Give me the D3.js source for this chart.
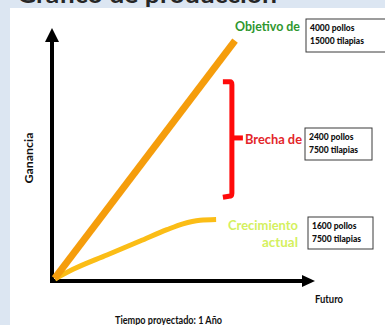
<!DOCTYPE html>
<html>
<head>
<meta charset="utf-8">
<script src="https://cdn.jsdelivr.net/npm/d3@7"></script>
<style>
  html, body { margin: 0; padding: 0; background: #dce6f2; }
  svg { display: block; }
</style>
</head>
<body>
<svg id="chart" width="385" height="325"></svg>
<script>
// Projected production: target line, current growth curve and the gap between them
const chartTitle = "Gráfico de producción";
const axisLabels = { y: "Ganancia", x: "Futuro", span: "Tiempo proyectado: 1 Año" };

const timeDomain = [0, 100];
const gainDomain = [0, 100];

// Target ("Objetivo de") straight line
const objetivoTime = [1, 69.6];
const objetivoGain = [1.0, 95];

// Current growth ("Crecimiento actual") curve
const crecimientoTime = [1.1, 8.0, 20.9, 33.5, 43.7, 49.8, 56.3, 62.4];
const crecimientoGain = [0.8, 4.6, 10.3, 15.8, 20.3, 22.6, 24.0, 24.3];

// Gap ("Brecha de") bracket: time position and gain span
const brechaTime = 68.4;
const brechaGain = [33.5, 78.8];

const seriesNames = ["Objetivo de", "Brecha de", ["Crecimiento", "actual"]];
const boxLines = [
  ["4000 pollos", "15000 tilapias"],
  ["2400 pollos", "7500 tilapias"],
  ["1600 pollos", "7500 tilapias"]
];

const svg = d3.select("#chart");
const font = "Lato, 'Open Sans', sans-serif";

// page panel
svg.append("rect").attr("x", 10).attr("y", 8).attr("width", 380).attr("height", 330).attr("fill", "#ffffff");

// title (partly above the frame)
svg.append("text")
  .attr("x", 17).attr("y", 3)
  .attr("textLength", 260).attr("lengthAdjust", "spacingAndGlyphs")
  .attr("font-family", font).attr("font-weight", 700).attr("font-size", 24)
  .attr("fill", "#262626")
  .text(chartTitle);

const x = d3.scaleLinear().domain(timeDomain).range([52, 315]);
const y = d3.scaleLinear().domain(gainDomain).range([281, 28]);

// axes with arrow heads
const axisG = svg.append("g");
axisG.append("line")
  .attr("x1", x(0)).attr("y1", y(0) + 2).attr("x2", x(0)).attr("y2", y(100) + 12)
  .attr("stroke", "#000").attr("stroke-width", 4);
axisG.append("path")
  .attr("d", `M${x(0)},${y(100)} L${x(0) - 7},${y(100) + 14} L${x(0) + 7},${y(100) + 14} Z`)
  .attr("fill", "#000");
axisG.append("line")
  .attr("x1", x(0) - 2).attr("y1", y(0)).attr("x2", x(100) - 12).attr("y2", y(0))
  .attr("stroke", "#000").attr("stroke-width", 4);
axisG.append("path")
  .attr("d", `M${x(100)},${y(0)} L${x(100) - 13},${y(0) - 6} L${x(100) - 13},${y(0) + 6} Z`)
  .attr("fill", "#000");

const line = d3.line().x(d => x(d[0])).y(d => y(d[1]));

// current growth curve
svg.append("path")
  .datum(d3.zip(crecimientoTime, crecimientoGain))
  .attr("d", line.curve(d3.curveMonotoneX))
  .attr("fill", "none").attr("stroke", "#fbbd16").attr("stroke-width", 5)
  .attr("stroke-linecap", "butt");

// target line
svg.append("path")
  .datum(d3.zip(objetivoTime, objetivoGain))
  .attr("d", line.curve(d3.curveLinear))
  .attr("fill", "none").attr("stroke", "#f59d0c").attr("stroke-width", 7);

// gap bracket
const bx = x(brechaTime), bTop = y(brechaGain[1]), bBot = y(brechaGain[0]);
svg.append("path")
  .attr("d", `M${bx - 9},${bTop} L${bx - 2},${bTop} Q${bx},${bTop} ${bx},${bTop + 3} L${bx},${bBot - 3} Q${bx},${bBot} ${bx - 3},${bBot} L${bx - 9},${bBot + 1}`)
  .attr("fill", "none").attr("stroke", "#ff0a0a").attr("stroke-width", 5).attr("stroke-linejoin", "round");
svg.append("line")
  .attr("x1", bx).attr("x2", bx + 11)
  .attr("y1", (bTop + bBot) / 2 - 1).attr("y2", (bTop + bBot) / 2 - 1)
  .attr("stroke", "#ff0a0a").attr("stroke-width", 5);

// series labels
function label(txt, xr, yb, size, color, width) {
  const t = svg.append("text").attr("x", xr).attr("y", yb).attr("text-anchor", "end")
    .attr("font-family", font).attr("font-weight", 700).attr("font-size", size)
    .attr("fill", color).text(txt);
  if (width) t.attr("textLength", width).attr("lengthAdjust", "spacingAndGlyphs");
  return t;
}
label(seriesNames[0], 300, 31, 12.5, "#2f972f", 65);
label(seriesNames[1], 302, 144, 12.5, "#e3262a", 57);
label(seriesNames[2][0], 298, 230, 12.5, "#d4f05e", 70);
label(seriesNames[2][1], 298, 247, 12.5, "#d4f05e", 36);

// value boxes
const boxes = [
  { x: 306, y: 19, w: 90, h: 33 },
  { x: 305, y: 128, w: 67, h: 32 },
  { x: 308, y: 217, w: 65, h: 32 }
];
boxes.forEach((b, i) => {
  svg.append("rect").attr("x", b.x).attr("y", b.y).attr("width", b.w).attr("height", b.h)
    .attr("fill", "#fff").attr("stroke", "#3a3a3a").attr("stroke-width", 1);
  boxLines[i].forEach((t, j) => {
    const n = svg.append("text").attr("x", b.x + 4).attr("y", b.y + 12 + j * 13)
      .attr("font-family", font).attr("font-weight", 900).attr("font-size", 8.5)
      .attr("fill", "#111").text(t);
    const w = n.node().getComputedTextLength();
    const target = t.length * 3.45;
    n.attr("textLength", Math.max(w, target)).attr("lengthAdjust", "spacingAndGlyphs");
  });
});

// axis titles
svg.append("text")
  .attr("transform", `translate(33,158) rotate(-90)`)
  .attr("text-anchor", "middle")
  .attr("font-family", font).attr("font-weight", 700).attr("font-size", 11.5)
  .attr("textLength", 51).attr("lengthAdjust", "spacingAndGlyphs")
  .attr("fill", "#111").text(axisLabels.y);
svg.append("text").attr("x", 315).attr("y", 303)
  .attr("font-family", font).attr("font-weight", 700).attr("font-size", 11.5)
  .attr("textLength", 28).attr("lengthAdjust", "spacingAndGlyphs")
  .attr("fill", "#111").text(axisLabels.x);
svg.append("text").attr("x", 115).attr("y", 324)
  .attr("font-family", font).attr("font-weight", 700).attr("font-size", 11)
  .attr("textLength", 107).attr("lengthAdjust", "spacingAndGlyphs")
  .attr("fill", "#111").text(axisLabels.span);
</script>
</body>
</html>
